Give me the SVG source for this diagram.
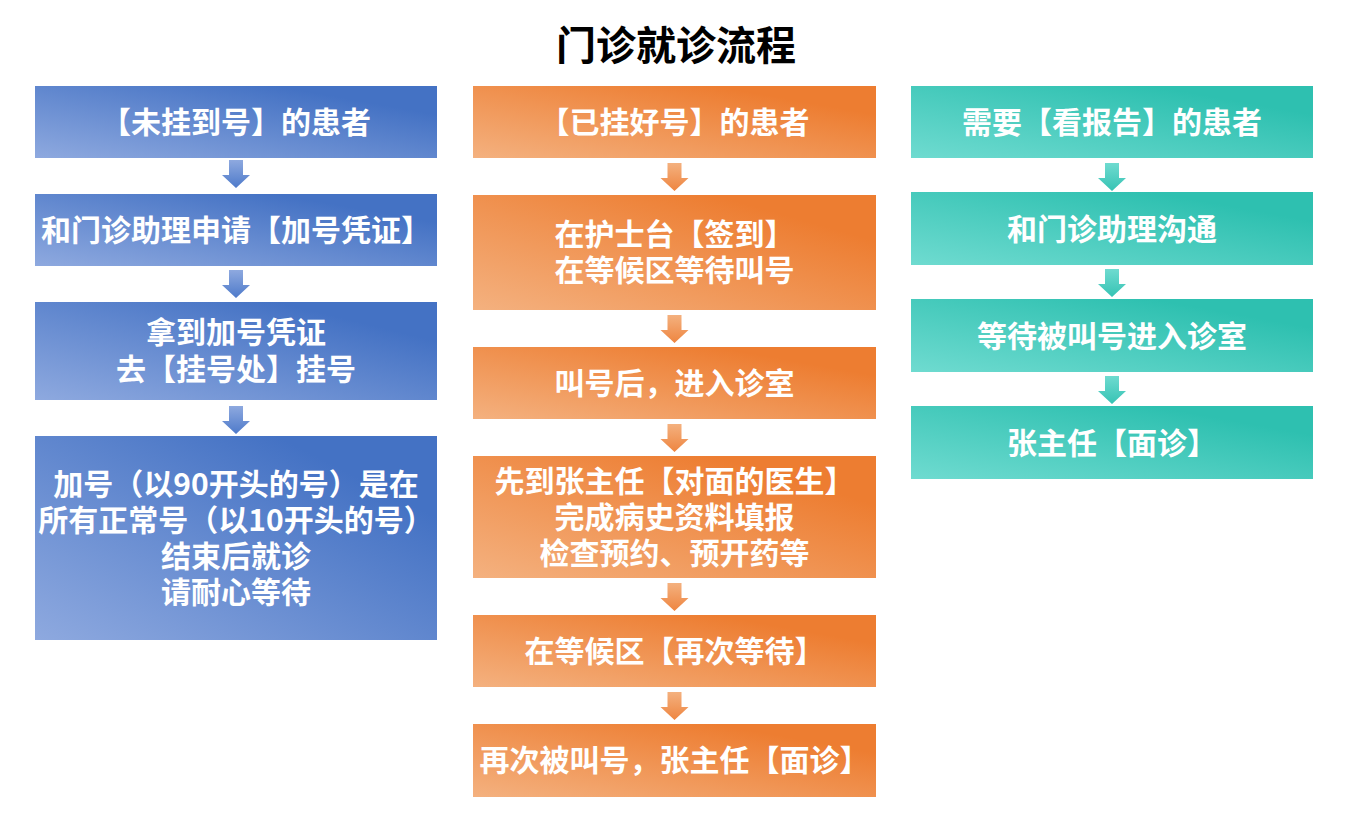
<svg xmlns="http://www.w3.org/2000/svg" width="1352" height="833" viewBox="0 0 1352 833">
<defs>
<linearGradient id="gBlue" x1="0" y1="1" x2="1" y2="0">
<stop offset="0" stop-color="#8EA9DF"/><stop offset="0.8" stop-color="#4472C4"/><stop offset="1" stop-color="#4472C4"/>
</linearGradient>
<linearGradient id="gOrange" x1="0" y1="1" x2="1" y2="0">
<stop offset="0" stop-color="#F4B17F"/><stop offset="0.8" stop-color="#ED7D31"/><stop offset="1" stop-color="#ED7D31"/>
</linearGradient>
<linearGradient id="gTeal" x1="0" y1="1" x2="1" y2="0">
<stop offset="0" stop-color="#6FDBD0"/><stop offset="0.8" stop-color="#2EC0B0"/><stop offset="1" stop-color="#2EC0B0"/>
</linearGradient>
<linearGradient id="aBlue" x1="0" y1="0" x2="0" y2="1">
<stop offset="0" stop-color="#8EA9DF"/><stop offset="1" stop-color="#4E7ACA"/>
</linearGradient>
<linearGradient id="aOrange" x1="0" y1="0" x2="0" y2="1">
<stop offset="0" stop-color="#F4B17F"/><stop offset="1" stop-color="#EE8540"/>
</linearGradient>
<linearGradient id="aTeal" x1="0" y1="0" x2="0" y2="1">
<stop offset="0" stop-color="#6FDBD0"/><stop offset="1" stop-color="#36C3B4"/>
</linearGradient>
<path id="arrow" d="M-7,0 H7 V15 H14 L0,28 L-14,15 H-7 Z"/>
</defs>
<style>
.t{font-family:"Noto Sans CJK SC","Noto Sans",sans-serif;font-weight:bold;font-size:30px;fill:#FFFFFF;text-anchor:middle}
.title{font-family:"Noto Sans CJK SC","Noto Sans",sans-serif;font-weight:bold;font-size:40px;fill:#000000;text-anchor:middle}
.b{fill:url(#gBlue)}
.o{fill:url(#gOrange)}
.g{fill:url(#gTeal)}
</style>
<rect width="1352" height="833" fill="#FFFFFF"/>
<text class="title" x="676" y="60">门诊就诊流程</text>

<g id="connectors">
<use href="#arrow" x="236" y="160" fill="url(#aBlue)"/>
<use href="#arrow" x="236" y="270" fill="url(#aBlue)"/>
<use href="#arrow" x="236" y="406" fill="url(#aBlue)"/>
<use href="#arrow" x="674.5" y="163" fill="url(#aOrange)"/>
<use href="#arrow" x="674.5" y="315" fill="url(#aOrange)"/>
<use href="#arrow" x="674.5" y="424" fill="url(#aOrange)"/>
<use href="#arrow" x="674.5" y="583" fill="url(#aOrange)"/>
<use href="#arrow" x="674.5" y="692" fill="url(#aOrange)"/>
<use href="#arrow" x="1112" y="163" fill="url(#aTeal)"/>
<use href="#arrow" x="1112" y="269" fill="url(#aTeal)"/>
<use href="#arrow" x="1112" y="376" fill="url(#aTeal)"/>
</g>

<g id="L1"><rect class="b" x="35" y="86" width="402" height="72"/><text class="t" x="236" y="133">【未挂到号】的患者</text></g>
<g id="L2"><rect class="b" x="35" y="194" width="402" height="72"/><text class="t" x="236" y="241">和门诊助理申请【加号凭证】</text></g>
<g id="L3"><rect class="b" x="35" y="302" width="402" height="98"/><text class="t" x="236" y="343">拿到加号凭证</text><text class="t" x="236" y="380">去【挂号处】挂号</text></g>
<g id="L4"><rect class="b" x="35" y="436" width="402" height="204"/><text class="t" x="236" y="495">加号（以90开头的号）是在</text><text class="t" x="236" y="531">所有正常号（以10开头的号）</text><text class="t" x="236" y="567">结束后就诊</text><text class="t" x="236" y="603">请耐心等待</text></g>

<g id="M1"><rect class="o" x="473" y="86" width="403" height="72"/><text class="t" x="674.5" y="133">【已挂好号】的患者</text></g>
<g id="M2"><rect class="o" x="473" y="195" width="403" height="115"/><text class="t" x="674.5" y="245">在护士台【签到】</text><text class="t" x="674.5" y="281">在等候区等待叫号</text></g>
<g id="M3"><rect class="o" x="473" y="347" width="403" height="72"/><text class="t" x="674.5" y="394">叫号后，进入诊室</text></g>
<g id="M4"><rect class="o" x="473" y="456" width="403" height="122"/><text class="t" x="674.5" y="492">先到张主任【对面的医生】</text><text class="t" x="674.5" y="528">完成病史资料填报</text><text class="t" x="674.5" y="564">检查预约、预开药等</text></g>
<g id="M5"><rect class="o" x="473" y="615" width="403" height="72"/><text class="t" x="674.5" y="662">在等候区【再次等待】</text></g>
<g id="M6"><rect class="o" x="473" y="724" width="403" height="73"/><text class="t" x="674.5" y="771">再次被叫号，张主任【面诊】</text></g>

<g id="R1"><rect class="g" x="911" y="86" width="402" height="72"/><text class="t" x="1112" y="133">需要【看报告】的患者</text></g>
<g id="R2"><rect class="g" x="911" y="192" width="402" height="73"/><text class="t" x="1112" y="240">和门诊助理沟通</text></g>
<g id="R3"><rect class="g" x="911" y="299" width="402" height="73"/><text class="t" x="1112" y="347">等待被叫号进入诊室</text></g>
<g id="R4"><rect class="g" x="911" y="406" width="402" height="73"/><text class="t" x="1112" y="454">张主任【面诊】</text></g>
</svg>
